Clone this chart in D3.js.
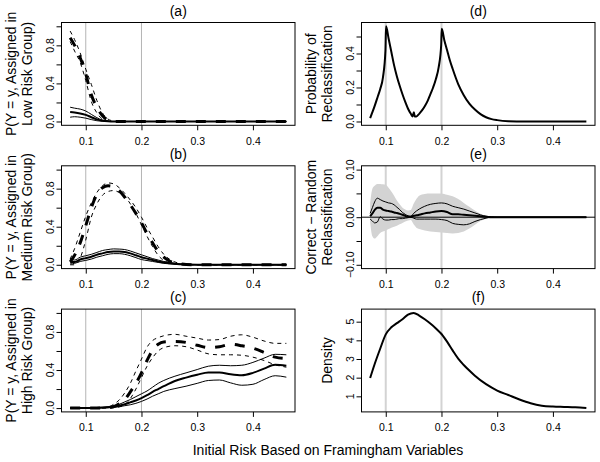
<!DOCTYPE html>
<html><head><meta charset="utf-8">
<script src="https://cdn.jsdelivr.net/npm/d3@7"></script>
<style>
body{margin:0;background:#fff}
svg text{font-family:"Liberation Sans",Arial,Helvetica,sans-serif;fill:#000}
</style>
</head><body>
<svg id="chart" width="600" height="462"></svg>
<script>
// ---------- data ----------
const xTicks = [0.1, 0.2, 0.3, 0.4];
const refLinesX = [0.1, 0.2];
const xDataRange = [0.072, 0.46];

// (a) Low risk group
const xA = [0.072,0.08,0.09,0.1,0.11,0.12,0.13,0.14,0.15,0.16,0.2,0.3,0.4,0.46];
const aDash   = [0.88,0.80,0.67,0.50,0.28,0.15,0.06,0.015,0.003,0,0,0,0,0];
const aDashHi = [0.95,0.86,0.72,0.55,0.39,0.22,0.09,0.025,0.005,0,0,0,0,0];
const aDashLo = [0.84,0.74,0.62,0.43,0.21,0.09,0.025,0.005,0,0,0,0,0,0];
const aSolid   = [0.10,0.095,0.085,0.07,0.045,0.022,0.008,0.002,0,0,0,0,0,0];
const aSolidHi = [0.15,0.14,0.13,0.11,0.075,0.04,0.015,0.004,0,0,0,0,0,0];
const aSolidLo = [0.045,0.05,0.045,0.035,0.02,0.008,0.002,0,0,0,0,0,0,0];

// (b) Medium risk group
const xB = [0.072,0.08,0.09,0.1,0.11,0.12,0.13,0.14,0.15,0.16,0.17,0.18,0.19,0.2,0.21,0.22,0.23,0.24,0.25,0.26,0.27,0.28,0.3,0.35,0.4,0.46];
const bDash   = [0.03,0.10,0.23,0.41,0.60,0.74,0.81,0.83,0.82,0.78,0.71,0.63,0.54,0.44,0.33,0.23,0.14,0.08,0.04,0.02,0.01,0.003,0,0,0,0];
const bDashHi = [0.06,0.17,0.34,0.51,0.65,0.76,0.83,0.86,0.85,0.81,0.75,0.68,0.60,0.50,0.39,0.29,0.19,0.11,0.06,0.03,0.012,0.004,0,0,0,0];
const bDashLo = [0,0,0.07,0.26,0.50,0.64,0.73,0.77,0.78,0.76,0.72,0.64,0.54,0.42,0.30,0.19,0.10,0.045,0.02,0.008,0.003,0,0,0,0,0];
const bSolid   = [0.03,0.03,0.055,0.07,0.085,0.105,0.12,0.135,0.14,0.14,0.135,0.12,0.10,0.08,0.065,0.05,0.035,0.025,0.017,0.01,0.006,0.003,0.001,0,0,0];
const bSolidHi = [0.06,0.05,0.08,0.095,0.11,0.13,0.15,0.16,0.167,0.165,0.16,0.145,0.125,0.105,0.085,0.065,0.05,0.035,0.025,0.015,0.01,0.005,0.002,0,0,0];
const bSolidLo = [0.01,0.015,0.035,0.046,0.06,0.08,0.095,0.11,0.117,0.117,0.11,0.095,0.075,0.055,0.045,0.035,0.025,0.015,0.01,0.005,0.003,0.001,0,0,0,0];

// (c) High risk group
const xC = [0.072,0.1,0.12,0.14,0.15,0.16,0.17,0.18,0.19,0.2,0.21,0.22,0.23,0.24,0.26,0.28,0.30,0.32,0.34,0.36,0.38,0.40,0.42,0.44,0.46];
const cDash   = [0,0,0,0.005,0.015,0.045,0.09,0.17,0.26,0.37,0.50,0.61,0.67,0.695,0.70,0.69,0.66,0.635,0.645,0.67,0.655,0.63,0.585,0.535,0.52];
const cDashHi = [0,0,0,0.01,0.04,0.085,0.16,0.26,0.39,0.515,0.64,0.71,0.74,0.76,0.775,0.755,0.735,0.715,0.72,0.755,0.77,0.745,0.705,0.68,0.68];
const cDashLo = [0,0,0,0,0.003,0.012,0.035,0.10,0.20,0.32,0.44,0.53,0.60,0.635,0.655,0.645,0.61,0.57,0.56,0.56,0.555,0.535,0.50,0.455,0.43];
const cSolid   = [0,0,0.002,0.008,0.015,0.025,0.04,0.06,0.08,0.105,0.135,0.17,0.20,0.23,0.285,0.32,0.35,0.375,0.375,0.355,0.345,0.37,0.415,0.455,0.445];
const cSolidHi = [0,0.002,0.005,0.015,0.025,0.04,0.065,0.09,0.12,0.15,0.18,0.22,0.26,0.29,0.335,0.37,0.405,0.44,0.45,0.445,0.45,0.48,0.525,0.565,0.56];
const cSolidLo = [0,0,0.001,0.004,0.008,0.015,0.025,0.035,0.05,0.07,0.095,0.125,0.15,0.175,0.205,0.23,0.26,0.29,0.295,0.265,0.24,0.25,0.30,0.34,0.325];

// (d) Probability of reclassification
const xD = [0.072,0.08,0.086,0.09,0.095,0.0995,0.1005,0.105,0.11,0.115,0.12,0.125,0.13,0.135,0.14,0.145,0.148,0.1505,0.152,0.155,0.16,0.165,0.17,0.175,0.18,0.185,0.19,0.195,0.1995,0.2005,0.205,0.21,0.215,0.22,0.23,0.24,0.25,0.26,0.27,0.28,0.29,0.3,0.32,0.35,0.4,0.46];
const dProb = [0.02,0.09,0.15,0.19,0.26,0.42,0.56,0.49,0.41,0.33,0.265,0.21,0.16,0.115,0.075,0.045,0.03,0.055,0.03,0.03,0.045,0.065,0.09,0.12,0.16,0.2,0.25,0.32,0.45,0.545,0.48,0.42,0.36,0.31,0.22,0.155,0.105,0.07,0.043,0.025,0.014,0.008,0.002,0,0,0];

// (e) Correct - Random reclassification
const xE = [0.072,0.076,0.08,0.085,0.09,0.095,0.1,0.105,0.11,0.115,0.12,0.125,0.13,0.135,0.14,0.145,0.15,0.155,0.16,0.17,0.18,0.19,0.2,0.21,0.22,0.23,0.24,0.25,0.26,0.27,0.28,0.29,0.3,0.35,0.4,0.46];
const eHi  = [0.008,0.02,0.032,0.04,0.037,0.034,0.032,0.03,0.029,0.026,0.021,0.016,0.01,0.006,0.003,0.002,0.008,0.013,0.017,0.023,0.027,0.029,0.03,0.028,0.023,0.02,0.017,0.013,0.009,0.005,0.002,0.001,0,0,0,0];
const eMid = [0.002,0.008,0.015,0.02,0.02,0.016,0.014,0.013,0.012,0.01,0.009,0.007,0.005,0.003,0.001,0.001,0.003,0.004,0.005,0.008,0.01,0.012,0.013,0.011,0.006,0.006,0.005,0.004,0.003,0.002,0.001,0,0,0,0,0];
const eLo  = [-0.004,-0.008,-0.012,-0.01,0.001,-0.004,-0.006,-0.006,-0.005,-0.005,-0.004,-0.003,-0.003,-0.002,-0.001,0,-0.002,-0.004,-0.004,-0.004,-0.004,-0.004,-0.005,-0.007,-0.013,-0.015,-0.016,-0.014,-0.009,-0.005,-0.002,0,0,0,0,0];
const eBandHi = [0.03,0.06,0.066,0.07,0.07,0.069,0.068,0.062,0.054,0.045,0.035,0.027,0.02,0.016,0.014,0.015,0.028,0.038,0.045,0.049,0.05,0.05,0.05,0.047,0.044,0.038,0.03,0.022,0.014,0.007,0.002,0.001,0,0,0,0];
const eBandLo = [-0.01,-0.04,-0.045,-0.04,-0.033,-0.03,-0.028,-0.025,-0.022,-0.02,-0.018,-0.015,-0.012,-0.009,-0.007,-0.006,-0.015,-0.022,-0.025,-0.028,-0.03,-0.031,-0.032,-0.033,-0.034,-0.033,-0.03,-0.024,-0.016,-0.008,-0.003,-0.001,0,0,0,0];

// (f) Density of initial risk
const xF = [0.072,0.08,0.09,0.1,0.11,0.12,0.13,0.14,0.15,0.16,0.17,0.18,0.19,0.2,0.21,0.22,0.23,0.24,0.25,0.26,0.28,0.30,0.32,0.34,0.36,0.38,0.40,0.42,0.44,0.46];
const fDens = [1.98,2.72,3.55,4.32,4.7,4.92,5.13,5.38,5.47,5.33,5.13,4.9,4.64,4.34,3.93,3.46,3.02,2.68,2.38,2.1,1.65,1.31,1.07,0.83,0.63,0.5,0.45,0.43,0.41,0.37];

const pTicks = [0,0.2,0.4,0.6,0.8,1.0];
const pTickLabels = [0,0.4,0.8];
const dTicks = [0,0.1,0.2,0.3,0.4,0.5];
const dTickLabels = [0,0.2,0.4];
const eTicks = [-0.1,-0.05,0,0.05,0.1];
const eTickLabels = [-0.1,0,0.1];
const fTicks = [1,2,3,4,5];

const xTitle = "Initial Risk Based on Framingham Variables";

// ---------- layout ----------
const svg = d3.select("#chart");
const W = 233.5, H = 102.8;
const colX = [61.5, 361.5];
const rowY = [22.5, 165.8, 309.1];
const FONT = '"Liberation Sans",Arial,Helvetica,sans-serif';

function makeX(c) {
  const s = xDataRange[1] - xDataRange[0];
  return d3.scaleLinear().domain([xDataRange[0] - 0.04 * s, xDataRange[1] + 0.04 * s]).range([colX[c], colX[c] + W]);
}
function makeY(r, lim) {
  const s = lim[1] - lim[0];
  return d3.scaleLinear().domain([lim[0] - 0.04 * s, lim[1] + 0.04 * s]).range([rowY[r] + H, rowY[r]]);
}
function fmtTick(v, digits) {
  const s = v.toFixed(digits);
  return v < 0 ? "\u2212" + s.slice(1) : s;
}

function drawLine(g, x, y, xs, ys, width, dash) {
  const pts = xs.map((d, i) => [d, ys[i]]);
  const line = d3.line().x(d => x(d[0])).y(d => y(d[1])).curve(d3.curveMonotoneX);
  const p = g.append("path").attr("d", line(pts)).attr("fill", "none")
    .attr("stroke", "#000").attr("stroke-width", width).attr("stroke-linejoin", "round");
  if (dash) p.attr("stroke-dasharray", dash);
  return p;
}

let clipN = 0;
function panel(cfg) {
  const x = makeX(cfg.col), y = makeY(cfg.row, cfg.ylim);
  const left = colX[cfg.col], top = rowY[cfg.row];
  const g = svg.append("g");
  const id = "clip" + (clipN++);
  svg.append("clipPath").attr("id", id).append("rect")
    .attr("x", left).attr("y", top).attr("width", W).attr("height", H);
  const plot = g.append("g").attr("clip-path", `url(#${id})`);

  if (cfg.before) cfg.before(plot, x, y);
  refLinesX.forEach(v => {
    plot.append("line").attr("x1", x(v)).attr("x2", x(v)).attr("y1", top).attr("y2", top + H)
      .attr("stroke", cfg.refColor).attr("stroke-width", cfg.refWidth);
  });
  cfg.draw(plot, x, y);

  g.append("rect").attr("x", left).attr("y", top).attr("width", W).attr("height", H)
    .attr("fill", "none").attr("stroke", "#000").attr("stroke-width", 1);

  // x axis
  const ax = g.append("g").attr("transform", `translate(0,${top + H})`)
    .call(d3.axisBottom(x).tickValues(xTicks).tickSize(5).tickPadding(7).tickFormat(d3.format(".1f")));
  ax.select(".domain").remove();
  ax.attr("font-size", null).attr("font-family", null);
  ax.selectAll("text").attr("font-size", 10.5).attr("font-family", FONT);

  // y axis ticks
  const ay = g.append("g").attr("transform", `translate(${left},0)`)
    .call(d3.axisLeft(y).tickValues(cfg.yticks).tickSize(5).tickFormat(""));
  ay.select(".domain").remove();
  cfg.ylabels.forEach(v => {
    g.append("text").attr("transform", `translate(${left - 8},${y(v)}) rotate(-90)`)
      .attr("text-anchor", "middle").attr("font-size", 10.5).text(fmtTick(v, cfg.digits));
  });

  // title
  g.append("text").attr("x", left + W / 2).attr("y", top - 7).attr("text-anchor", "middle")
    .attr("font-size", 14).text(cfg.title);

  // y label (multi-line)
  const n = cfg.ylab.length;
  const cy = top + H / 2;
  cfg.ylab.forEach((t, i) => {
    const bx = cfg.col * 300 + 32 - (n - 1 - i) * 16;
    g.append("text").attr("transform", `translate(${bx},${cy}) rotate(-90)`)
      .attr("text-anchor", "middle").attr("font-size", 14).text(t);
  });
}

function ciPanel(plot, x, y, xs, dash, dashHi, dashLo, solid, solidHi, solidLo) {
  drawLine(plot, x, y, xs, solidHi, 1);
  drawLine(plot, x, y, xs, solidLo, 1);
  drawLine(plot, x, y, xs, solid, 2);
  drawLine(plot, x, y, xs, dashHi, 1, "4,4");
  drawLine(plot, x, y, xs, dashLo, 1, "4,4");
  drawLine(plot, x, y, xs, dash, 3, "10,10");
}

const leftRef = { refColor: "#b4b4b4", refWidth: 1 };
const rightRef = { refColor: "#d3d3d3", refWidth: 2 };

panel(Object.assign({ col: 0, row: 0, ylim: [0, 1], yticks: pTicks, ylabels: pTickLabels, digits: 1,
  title: "(a)", ylab: ["P(Y = y, Assigned in", "Low Risk Group)"],
  draw: (p, x, y) => ciPanel(p, x, y, xA, aDash, aDashHi, aDashLo, aSolid, aSolidHi, aSolidLo) }, leftRef));

panel(Object.assign({ col: 0, row: 1, ylim: [0, 1], yticks: pTicks, ylabels: pTickLabels, digits: 1,
  title: "(b)", ylab: ["P(Y = y, Assigned in", "Medium Risk Group)"],
  draw: (p, x, y) => ciPanel(p, x, y, xB, bDash, bDashHi, bDashLo, bSolid, bSolidHi, bSolidLo) }, leftRef));

panel(Object.assign({ col: 0, row: 2, ylim: [0, 1], yticks: pTicks, ylabels: pTickLabels, digits: 1,
  title: "(c)", ylab: ["P(Y = y, Assigned in", "High Risk Group)"],
  draw: (p, x, y) => ciPanel(p, x, y, xC, cDash, cDashHi, cDashLo, cSolid, cSolidHi, cSolidLo) }, leftRef));

panel(Object.assign({ col: 1, row: 0, ylim: [0, d3.max(dProb)], yticks: dTicks, ylabels: dTickLabels, digits: 1,
  title: "(d)", ylab: ["Probability of", "Reclassification"],
  draw: (p, x, y) => drawLine(p, x, y, xD, dProb, 2) }, rightRef));

panel(Object.assign({ col: 1, row: 1, ylim: [-0.1, 0.1], yticks: eTicks, ylabels: eTickLabels, digits: 2,
  title: "(e)", ylab: ["Correct \u2212 Random", "Reclassification"],
  before: (p, x, y) => {
    const pts = xE.map((d, i) => [d, eBandLo[i], eBandHi[i]]);
    const area = d3.area().x(d => x(d[0])).y0(d => y(d[1])).y1(d => y(d[2])).curve(d3.curveMonotoneX);
    p.append("path").attr("d", area(pts)).attr("fill", "#d3d3d3").attr("stroke", "none");
  },
  draw: (p, x, y) => {
    const [x0, x1] = x.range();
    p.append("line").attr("x1", x0).attr("x2", x1).attr("y1", y(0)).attr("y2", y(0))
      .attr("stroke", "#000").attr("stroke-width", 1);
    drawLine(p, x, y, xE, eHi, 1);
    drawLine(p, x, y, xE, eLo, 1);
    drawLine(p, x, y, xE, eMid, 2);
  } }, rightRef));

panel(Object.assign({ col: 1, row: 2, ylim: d3.extent(fDens), yticks: fTicks, ylabels: fTicks, digits: 0,
  title: "(f)", ylab: ["Density"],
  draw: (p, x, y) => drawLine(p, x, y, xF, fDens, 2) }, rightRef));

svg.append("text").attr("x", 328).attr("y", 455).attr("text-anchor", "middle")
  .attr("font-size", 14).text(xTitle);
</script>
</body></html>
